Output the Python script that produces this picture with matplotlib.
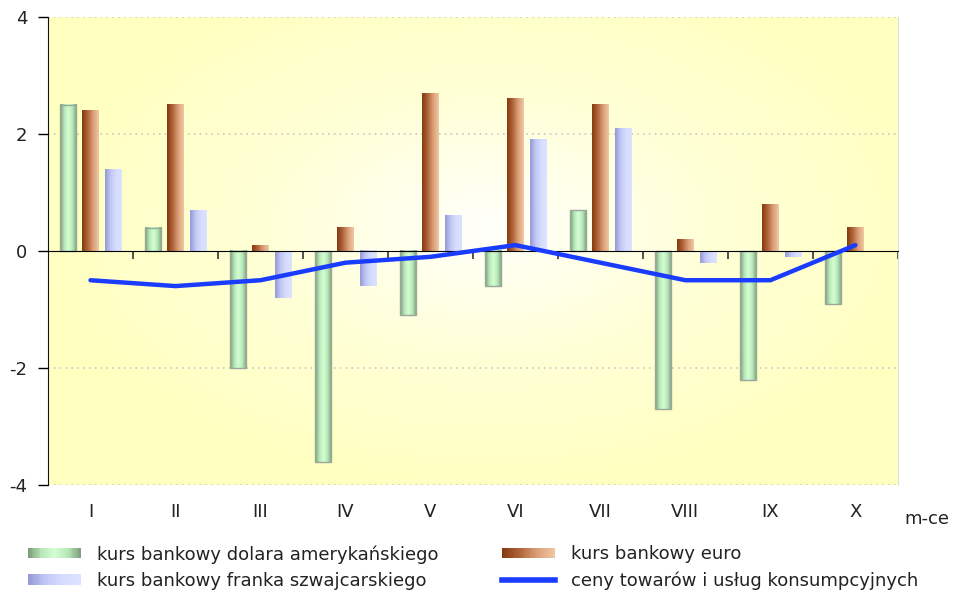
import numpy as np
import matplotlib
matplotlib.use("Agg")
import matplotlib.pyplot as plt
from matplotlib.colors import LinearSegmentedColormap
from matplotlib.patches import Rectangle
from matplotlib.lines import Line2D
from matplotlib.legend_handler import HandlerBase
import matplotlib.transforms as mtransforms

plt.rcParams['font.family'] = ['DejaVu Sans']

# data
months = ["I", "II", "III", "IV", "V", "VI", "VII", "VIII", "IX", "X"]
usd = [2.5, 0.4, -2.0, -3.6, -1.1, -0.6, 0.7, -2.7, -2.2, -0.9]
eur = [2.4, 2.5, 0.1, 0.4, 2.7, 2.6, 2.5, 0.2, 0.8, 0.4]
chf = [1.4, 0.7, -0.8, -0.6, 0.6, 1.9, 2.1, -0.2, -0.1, 0.0]
cpi = [-0.5, -0.6, -0.5, -0.2, -0.1, 0.1, -0.2, -0.5, -0.5, 0.1]

labels = ["kurs bankowy dolara amerykańskiego",
          "kurs bankowy franka szwajcarskiego",
          "kurs bankowy euro",
          "ceny towarów i usług konsumpcyjnych"]

FS = 13
TXT = "#222222"
BLUE = "#1a3cff"

# gradients for the bars
cm_usd = LinearSegmentedColormap.from_list("usd", ["#7c9a7c", "#b6e6b6", "#d4ffd4", "#b6e6b6", "#7c9a7c"])
cm_eur = LinearSegmentedColormap.from_list("eur", ["#86380e", "#b0643a", "#dca078", "#f0c8a4"])
cm_chf = LinearSegmentedColormap.from_list("chf", ["#9498d4", "#c2c8f6", "#d6ddff", "#dce2ff"])

fig = plt.figure(figsize=(9.57, 5.97), dpi=100)
ax = fig.add_axes([0.0502, 0.1876, 0.888, 0.784])

# background radial gradient
yy, xx = np.mgrid[0:1:200j, 0:1:300j]
d = np.sqrt(((xx - 0.52) / 0.75) ** 2 + ((yy - 0.55) / 0.8) ** 2)
d = np.clip(d / 0.72, 0, 1)
bg = LinearSegmentedColormap.from_list("bg", ["#fffffb", "#ffffd6", "#ffffc0"])
ax.imshow(bg(d), extent=[0, 1, 0, 1], transform=ax.transAxes, aspect="auto",
          zorder=0, origin="lower")

x = np.arange(1, len(months) + 1)
w = 0.19
off = 0.265

grad = np.linspace(0, 1, 64).reshape(1, -1)


def grad_bars(xpos, vals, cmap, edge):
    bars = ax.bar(xpos, vals, w, color="none", edgecolor=edge,
                  linewidth=1.0 if edge != "none" else 0, zorder=3)
    for b in bars:
        h = b.get_height()
        if h == 0:
            continue
        y0, y1 = sorted([b.get_y(), b.get_y() + h])
        ax.imshow(grad, cmap=cmap, extent=[b.get_x(), b.get_x() + b.get_width(), y0, y1],
                  aspect="auto", zorder=2, interpolation="bilinear")
    return bars


grad_bars(x - off, usd, cm_usd, "#9aa89a")
grad_bars(x, eur, cm_eur, "none")
grad_bars(x + off, chf, cm_chf, "none")

ax.plot(x, cpi, color=BLUE, linewidth=3.2, zorder=5, solid_capstyle="round")

ax.set_xlim(0.5, len(months) + 0.5)
ax.set_ylim(-4, 4)
ax.set_yticks([-4, -2, 0, 2, 4])
ax.set_yticklabels(["-4", "-2", "0", "2", "4"], fontsize=FS, color=TXT)
ax.tick_params(axis="y", direction="out", length=7, width=1, pad=8)

for v in [-4, -2, 2, 4]:
    ax.axhline(v, color="#c8c8c8", linestyle=(0, (1, 2.5)), linewidth=1.2, zorder=1)

# zero line as the category axis
ax.spines["bottom"].set_position(("data", 0))
ax.spines["bottom"].set_zorder(4)
ax.set_xticks(np.arange(1.5, len(months) + 1, 1))
ax.set_xticklabels([])
ax.tick_params(axis="x", direction="out", length=6, width=1.2, color="#333333")
ax.spines["top"].set_visible(False)
ax.spines["right"].set_color("#e0e0e0")
ax.spines["left"].set_color("#111111")

trans = mtransforms.blended_transform_factory(ax.transData, ax.transAxes)
for xi, m in zip(x, months):
    ax.text(xi, -0.058, m, transform=trans, ha="center", va="center",
            fontsize=FS, color=TXT)
ax.text(1.008, -0.072, "m-ce", transform=ax.transAxes, ha="left", va="center",
        fontsize=FS, color=TXT)


class GradHandler(HandlerBase):
    def __init__(self, cmap, n=30):
        super().__init__()
        self.cmap = cmap
        self.n = n

    def create_artists(self, legend, orig_handle, xdescent, ydescent,
                       width, height, fontsize, trans):
        sw = width / self.n
        arts = []
        for i in range(self.n):
            arts.append(Rectangle((-xdescent + i * sw, -ydescent), sw * 1.05, height,
                                  facecolor=self.cmap((i + 0.5) / self.n),
                                  edgecolor="none", transform=trans))
        return arts


h_usd = Rectangle((0, 0), 1, 1)
h_chf = Rectangle((0, 0), 1, 1)
h_eur = Rectangle((0, 0), 1, 1)
h_cpi = Line2D([], [], color=BLUE, linewidth=4)

leg_kw = dict(loc="center left", frameon=False, fontsize=FS, handlelength=2.95,
              handleheight=0.5, handletextpad=0.85, labelspacing=0.45,
              borderpad=0, borderaxespad=0, labelcolor=TXT,
              handler_map={h_usd: GradHandler(cm_usd), h_chf: GradHandler(cm_chf),
                           h_eur: GradHandler(cm_eur)})
leg1 = fig.legend([h_usd, h_chf], labels[:2], bbox_to_anchor=(28 / 957, 0.0494), **leg_kw)
leg2 = fig.legend([h_eur, h_cpi], labels[2:], bbox_to_anchor=(502 / 957, 0.0494), **leg_kw)

fig.savefig("out.png", dpi=100)
